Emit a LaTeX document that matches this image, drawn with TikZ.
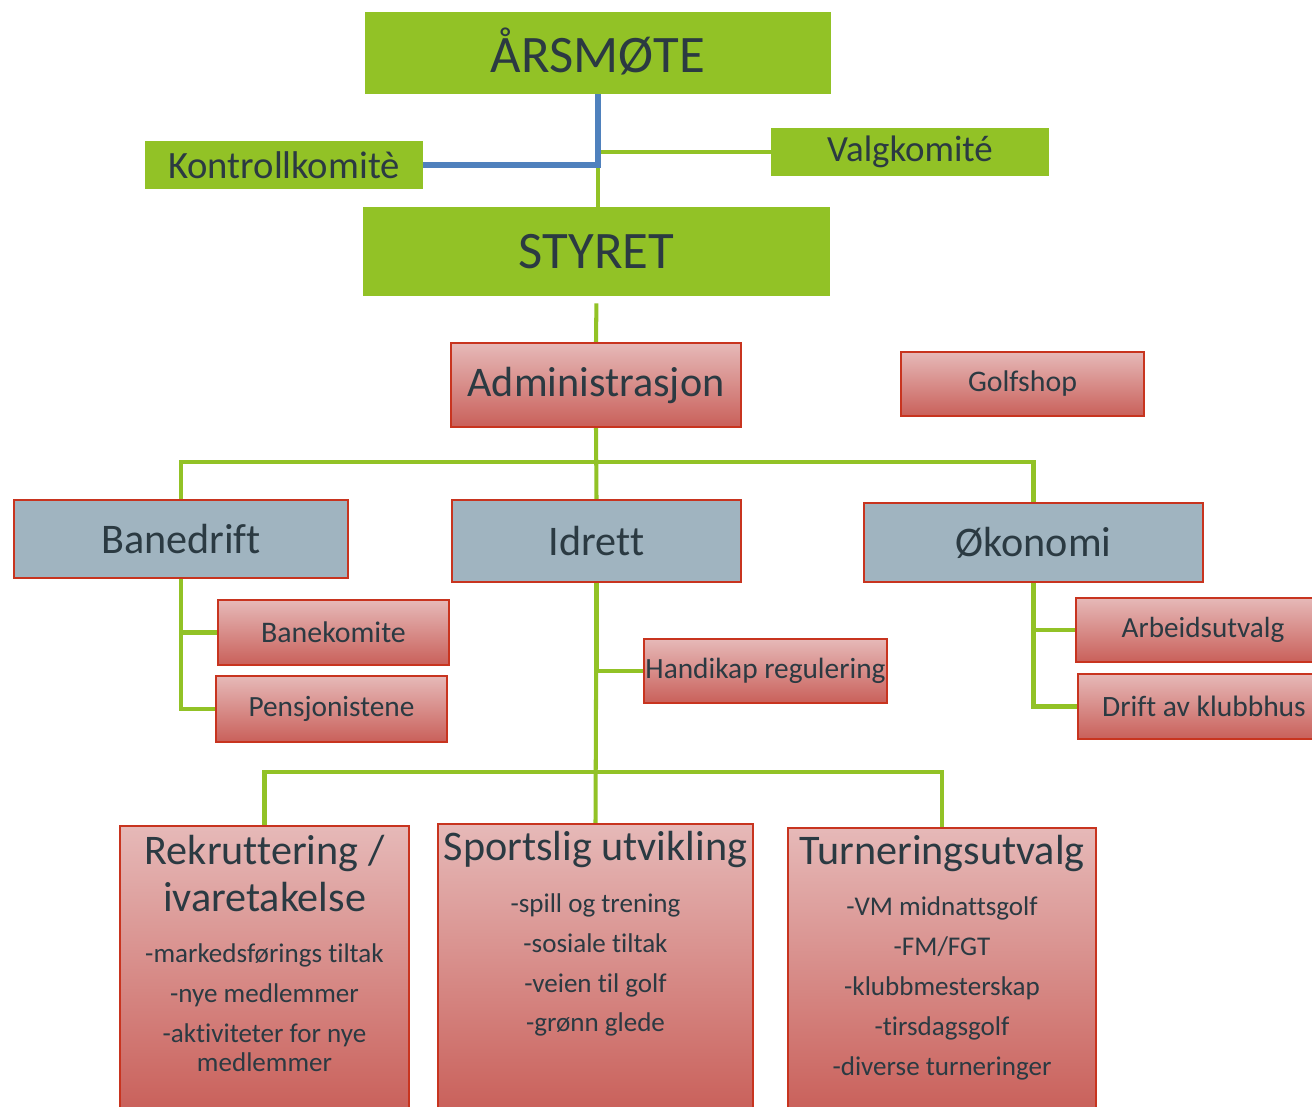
\documentclass[tikz,border=0pt]{standalone}
\usepackage{fontspec}
\setmainfont{Carlito}[Ligatures={NoCommon,NoContextual}]
\usetikzlibrary{calc, positioning}
\definecolor{lime}{HTML}{92C226}
\definecolor{redtop}{HTML}{E6B9B8}
\definecolor{redbot}{HTML}{C9605A}
\definecolor{redline}{HTML}{C8341F}
\definecolor{slate}{HTML}{A0B4C0}
\definecolor{ink}{HTML}{2B3A42}
\definecolor{blueline}{HTML}{4F81BD}
\newcommand\fs[2]{\fontsize{#1}{#2}\selectfont}
\tikzset{
  sz/.style 2 args={minimum width=#1*0.02cm, minimum height=#2*0.02cm},
  greenbox/.style={fill=lime, text=ink, inner sep=0pt},
  redbox/.style={top color=redtop, bottom color=redbot, draw=redline, line width=1.2pt, text=ink, inner sep=0pt},
  greybox/.style={fill=slate, draw=redline, line width=1.2pt, text=ink, inner sep=0pt},
  label/.style={text=ink, inner sep=0pt, align=center},
  conn/.style={draw=lime, line width=2.3pt},
}

\begin{document}
\begin{tikzpicture}[x=0.02cm, y=-0.02cm]
\useasboundingbox (0,0) rectangle (1312,1106);
\clip (0,0) rectangle (1312,1106);

% top
\node[greenbox, sz={466}{82}, font=\fs{30}{36}] (arsmote) at (598,53) {\raisebox{3pt}{ÅRSMØTE}};
\node[greenbox, sz={278}{48}, font=\fs{22}{26}] (kontroll) at (284,165) {Kontrollkomitè};
\node[greenbox, sz={278}{48}, font=\fs{21}{26}] (valg) at (910,152) {Valgkomité};
\node[greenbox, sz={467}{89}, font=\fs{30}{36}] (styret) at (596.5,251.5) {STYRET};

\node[redbox, sz={290}{84}, font=\fs{24}{28}] (admin) at (596,385) {Administrasjon};
\node[redbox, sz={243}{64}, font=\fs{17}{20}] (golfshop) at (1022.5,384) {Golfshop};

% avdelinger
\node[greybox, sz={334}{78}, font=\fs{24}{28}] (banedrift) at (181,539) {Banedrift};
\node[greybox, sz={289}{82}, font=\fs{24}{28}] (idrett) at (596.5,541) {Idrett};
\node[greybox, sz={339}{79}, font=\fs{24}{28}] (okonomi) at (1033.5,542.5) {Økonomi};

\node[redbox, sz={231}{65}, font=\fs{17}{20}] (banekomite) at (333.5,632.5) {Banekomite};
\node[redbox, sz={231}{66}, font=\fs{16.7}{20}] (pensjon) at (331.5,709) {Pensjonistene};
\node[redbox, sz={243}{64}, font=\fs{16.7}{20}] (handikap) at (765.5,671) {Handikap regulering};
\node[redbox, sz={254}{64}, font=\fs{16.6}{20}] (arbeid) at (1203,630) {Arbeidsutvalg};
\node[redbox, sz={252}{65}, font=\fs{16.8}{20}] (drift) at (1204,706.5) {Drift av klubbhus};

% utvalg
\node[redbox, sz={289}{286}] (rekrutt) at (264.5,969) {};
\node[redbox, sz={315}{288}] (sportslig) at (595.5,968) {};
\node[redbox, sz={308}{284}] (turnering) at (942,970) {};

\node[label, font=\fs{24}{26.6}] (rekruttT) at (264.5,873.5) {Rekruttering /\\ivaretakelse};
\node[label, font=\fs{15.4}{22.7}] (rekruttL) at (264.5,1007.5) {-markedsførings tiltak\\-nye medlemmer\\-aktiviteter for nye\\[-6pt]medlemmer};
\node[label, font=\fs{24}{26.6}] (sportsligT) at (595.5,849) {Sportslig utvikling};
\node[label, font=\fs{15.4}{22.7}] (sportsligL) at (595.5,965) {-spill og trening\\-sosiale tiltak\\-veien til golf\\-grønn glede};
\node[label, font=\fs{24}{26.6}] (turneringT) at (942,853) {Turneringsutvalg};
\node[label, font=\fs{15.4}{22.7}] (turneringL) at (942,988.5) {-VM midnattsgolf\\-FM/FGT\\-klubbmesterskap\\-tirsdagsgolf\\-diverse turneringer};

% linjer
\draw[conn] (valg.west) -- (valg.west -| arsmote.south) -- (arsmote.south |- styret.north);
\draw[blueline, line width=3.2pt] (arsmote.south) -- (arsmote.south |- kontroll.east) -- (kontroll.east);
\draw[conn, shorten <=0.14cm] (styret.south) -- (admin.north);
\draw[conn] (admin.south) -- (idrett.north);
\draw[conn] (banedrift.north) -- ++(0,-37) -| (okonomi.north);
\draw[conn] (banedrift.south) |- (banekomite.west);
\draw[conn] (banedrift.south) |- (pensjon.west);
\draw[conn] (idrett.south) |- (handikap.west);
\draw[conn] (idrett.south) -- (sportslig.north);
\draw[conn] (rekrutt.north) -- ++(0,-53) -| (turnering.north);
\draw[conn] (okonomi.south) |- (arbeid.west);
\draw[conn] (okonomi.south) |- (drift.west);

\end{tikzpicture}
\end{document}
